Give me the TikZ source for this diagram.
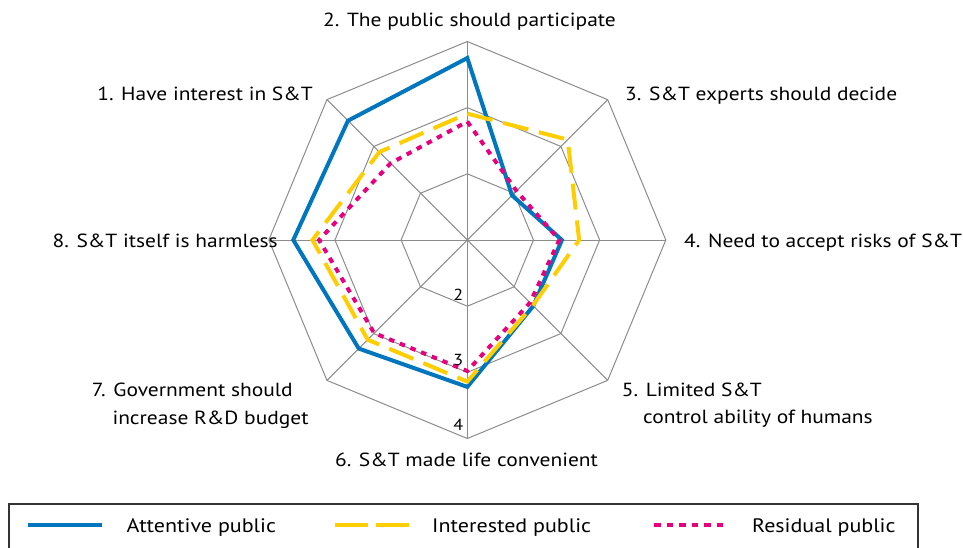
\documentclass[tikz,border=0pt]{standalone}
\usepackage{fontspec}
\setmainfont{PT Sans}[FakeStretch=1.13]
\definecolor{attc}{RGB}{0,118,190}
\definecolor{intc}{RGB}{255,206,0}
\definecolor{resc}{RGB}{230,0,126}
\definecolor{gridc}{RGB}{140,140,140}
\begin{document}
\begin{tikzpicture}[x=1pt,y=1pt,
  lbl/.style={inner sep=0pt,font=\fontsize{19}{23}\selectfont},
  leg/.style={inner sep=0pt,font=\fontsize{19.5}{23}\selectfont},
  tick/.style={inner sep=0pt,font=\fontsize{16}{19}\selectfont},
  gridline/.style={draw=gridc,line width=1pt},
  attline/.style={draw=attc,line width=4pt,line join=miter},
  intline/.style={draw=intc,line width=4pt,dash pattern=on 26pt off 11pt,line join=miter},
  resline/.style={draw=resc,line width=4pt,dash pattern=on 5.5pt off 6pt},
  legbox/.style={draw=black!80,line width=1.2pt}]
\useasboundingbox (0,0) rectangle (963,-547);
\coordinate (C) at (467.3,-240);
\def\u{66.17}
\begin{scope}[shift={(C)}]
  % rings
  \foreach \r in {1,2,3}{
    \draw[gridline] (0:{\r*\u}) -- (45:{\r*\u}) -- (90:{\r*\u}) -- (135:{\r*\u}) -- (180:{\r*\u}) -- (225:{\r*\u}) -- (270:{\r*\u}) -- (315:{\r*\u}) -- cycle;
  }
  \foreach \a in {0,45,...,315}{
    \draw[gridline] (0,0) -- (\a:{3*\u});
  }
  % attentive
  \draw[attline] (135:{2.55*\u}) -- (90:{2.75*\u}) -- (45:{0.955*\u}) -- (0:{1.43*\u}) -- (-45:{1.41*\u}) -- (-90:{2.22*\u}) -- (-135:{2.32*\u}) -- (180:{2.63*\u}) -- cycle;
  % interested
  \draw[intline] (90:{1.91*\u}) -- (45:{2.145*\u}) -- (0:{1.69*\u}) -- (-45:{1.40*\u}) -- (-90:{2.14*\u}) -- (-135:{2.13*\u}) -- (180:{2.34*\u}) -- (135:{1.88*\u}) -- cycle;
  % residual
  \draw[resline] (90:{1.79*\u}) -- (45:{1.05*\u}) -- (0:{1.39*\u}) -- (-45:{1.34*\u}) -- (-90:{1.98*\u}) -- (-135:{1.99*\u}) -- (180:{2.24*\u}) -- (135:{1.64*\u}) -- cycle;
\end{scope}
% tick labels
\node[tick,anchor=base east] (t2) at (463.3,-300) {2};
\node[tick,anchor=base east] (t3) at (463.3,-365) {3};
\node[tick,anchor=base east] (t4) at (463.3,-430) {4};
% axis labels
\node[lbl,anchor=base] (l2) at (469.5,-26) {2. The public should participate};
\node[lbl,anchor=base east] (l1) at (313,-100) {1. Have interest in S\&T};
\node[lbl,anchor=base west] (l3) at (625,-100) {3. S\&T experts should decide};
\node[lbl,anchor=base east] (l8) at (278,-247) {8. S\&T itself is harmless};
\node[lbl,anchor=base west] (l4) at (684,-247) {4. Need to accept risks of S\&T};
\node[lbl,anchor=base west] (l7a) at (91.7,-396.7) {7. Government should};
\node[lbl,anchor=base west] (l7b) at (112.3,-424) {increase R\&D budget};
\node[lbl,anchor=base west] (l5a) at (621.7,-396.7) {5. Limited S\&T};
\node[lbl,anchor=base west] (l5b) at (643,-423.3) {control ability of humans};
\node[lbl,anchor=base] (l6) at (466.5,-466.7) {6. S\&T made life convenient};
% legend
\coordinate (bx1) at (9,-504);
\coordinate (bx2) at (918,-560);
\draw[legbox] (bx1) rectangle (bx2);
\coordinate (a1) at (28,-525); \coordinate (a2) at (102,-525);
\coordinate (b1) at (335,-525); \coordinate (b2) at (409,-525);
\coordinate (c1) at (654,-525); \coordinate (c2) at (728,-525);
\draw[attline] (a1) -- (a2);
\draw[draw=intc,line width=4pt,dash pattern=on 33pt off 8pt] (b1) -- (b2);
\draw[draw=resc,line width=4pt,dash pattern=on 6.5pt off 6pt] (c1) -- (c2);
\node[leg,anchor=base west] (g1) at (126.5,-532.3) {Attentive public};
\node[leg,anchor=base west] (g2) at (432,-532.3) {Interested public};
\node[leg,anchor=base west] (g3) at (752,-532.3) {Residual public};
\end{tikzpicture}
\end{document}
